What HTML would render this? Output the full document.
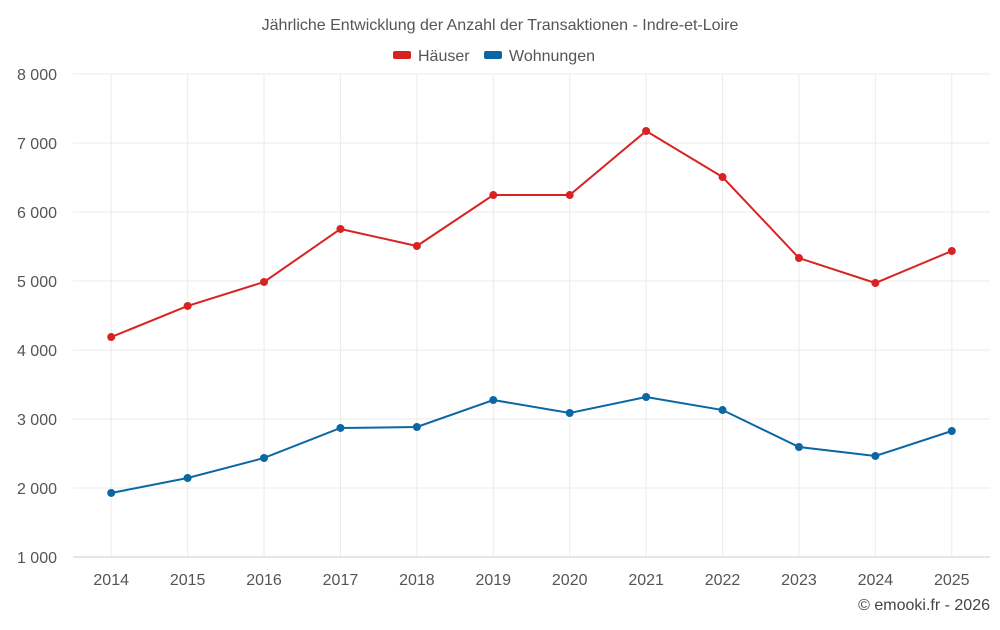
<!DOCTYPE html>
<html><head><meta charset="utf-8"><style>
body{margin:0;background:#fff;font-family:"Liberation Sans",sans-serif;}
svg text{font-family:"Liberation Sans",sans-serif;}
</style></head><body>
<svg id="chart" width="1000" height="625">
<text x="500" y="30" text-anchor="middle" font-size="16" fill="#555">Jährliche Entwicklung der Anzahl der Transaktionen - Indre-et-Loire</text>
<g><rect x="393" y="51" width="18" height="8" rx="2" fill="#d92323"/><text x="418" y="61" font-size="16" fill="#555">Häuser</text></g>
<g><rect x="484" y="51" width="18" height="8" rx="2" fill="#0a67a3"/><text x="509" y="61" font-size="16" fill="#555">Wohnungen</text></g>
<g id="grid"></g><g id="series"></g>
<text x="990" y="610" text-anchor="end" font-size="16" fill="#444">© emooki.fr - 2026</text>
</svg>
<script>
const years=[2014,2015,2016,2017,2018,2019,2020,2021,2022,2023,2024,2025];
const haeuser=[4188,4638,4986,5754,5507,6246,6246,7174,6507,5333,4971,5435];
const wohnungen=[1928,2145,2435,2870,2884,3275,3087,3319,3130,2594,2464,2826];
const yTicks=[1000,2000,3000,4000,5000,6000,7000,8000];
const L=73,R=990,T=74,B=557,ymin=1000,ymax=8000;
const bw=(R-L)/years.length;
const x=i=>L+bw*(i+0.5);
const y=v=>B-(v-ymin)/(ymax-ymin)*(B-T);
const ns="http://www.w3.org/2000/svg";
function mk(t,a,p){const e=document.createElementNS(ns,t);for(const k in a)e.setAttribute(k,a[k]);p.appendChild(e);return e;}
const g=document.getElementById('grid'),s=document.getElementById('series');
yTicks.forEach(v=>{
 const l=mk('line',{x1:L,x2:R,y1:y(v),y2:y(v),stroke:v===ymin?'#ccc':'#ebebeb'},g);
 
 
 const t=mk('text',{x:57,y:y(v)+6,'text-anchor':'end','font-size':16,fill:'#555'},g);
 t.textContent=String(v).replace(/\B(?=(\d{3})+$)/g,' ');
 
 
});
years.forEach((yr,i)=>{
 const l=mk('line',{x1:x(i),x2:x(i),y1:T,y2:B,stroke:'#ebebeb'},g);
 
 
 const t=mk('text',{x:x(i),y:585,'text-anchor':'middle','font-size':16,fill:'#555'},g);
 t.textContent=yr;
 
 
});
[[haeuser,'#d92323','haeuser'],[wohnungen,'#0a67a3','wohnungen']].forEach(([d,c,n])=>{
 const p=mk('polyline',{points:d.map((v,i)=>x(i)+','+y(v)).join(' '),fill:'none',stroke:c,'stroke-width':2},s);
 
 
 d.forEach((v,i)=>{
  const ci=mk('circle',{cx:x(i),cy:y(v),r:4,fill:c},s);
  
  
 });
});
</script>
</body></html>
